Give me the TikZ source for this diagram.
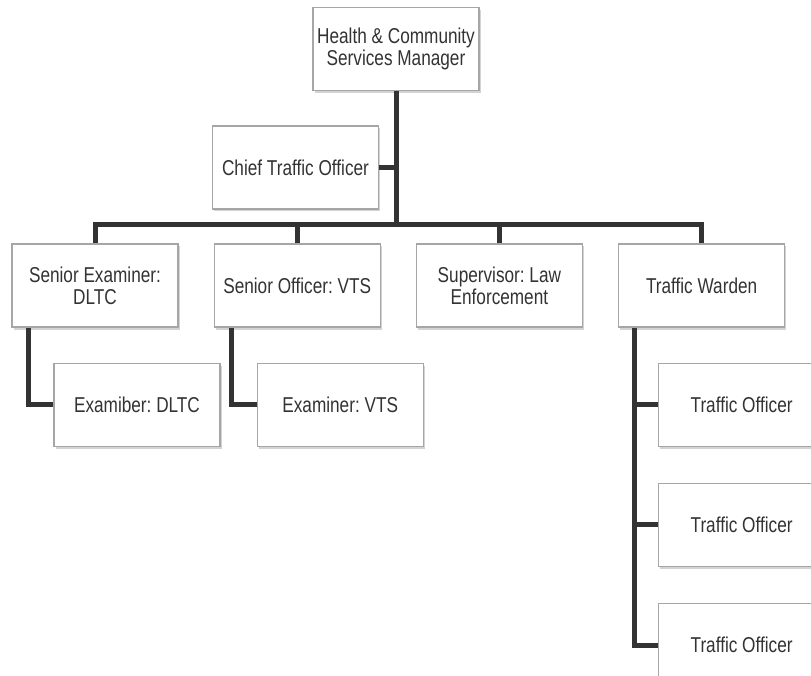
\documentclass[tikz,border=0pt]{standalone}
\usepackage{fontspec}
\setmainfont{Liberation Sans}[FakeStretch=0.8]
\usetikzlibrary{positioning,shadows}
\frenchspacing

\begin{document}
\begin{tikzpicture}[
  x=1pt, y=-1pt,
  node distance=35pt,
  post/.style={rectangle, draw=gray!70, fill=white, line width=1.2pt, align=center, inner sep=2pt, minimum width=166pt, minimum height=83pt, text=black!80, font=\fontsize{21.5}{22}\selectfont, drop shadow={shadow xshift=1.5pt, shadow yshift=-2.5pt, opacity=0.35}},
  link/.style={draw=black!80, line width=5pt}
]
\useasboundingbox (0,0) rectangle (811,676);
\clip (0,0) rectangle (811,676);

\node[post] (mgr) at (396,49) {Health \& Community\\Services Manager};
\node[post] (chief) at (295.5,167.5) {Chief Traffic Officer};
\node[post] (sen1) at (95,285.5) {Senior Examiner:\\DLTC};
\node[post, right=of sen1] (sen2) {Senior Officer: VTS};
\node[post, right=of sen2] (sup) {Supervisor: Law\\Enforcement};
\node[post, right=of sup] (warden) {Traffic Warden};
\node[post, below=35pt of sen1, xshift=42pt] (exam1) {Examiber: DLTC};
\node[post, below=35pt of sen2, xshift=43pt] (exam2) {Examiner: VTS};
\node[post, below=35pt of warden, xshift=40pt] (off1) {Traffic Officer};
\node[post, below=36pt of off1] (off2) {Traffic Officer};
\node[post, below=36pt of off2] (off3) {Traffic Officer};

\coordinate (bus) at (0,225);
\draw[link] (mgr.south) -- (mgr.south |- bus);
\draw[link] (chief.east) -- (chief.east -| mgr.south);
\draw[link] (sen1.north) -- (sen1.north |- bus) -- (warden.north |- bus) -- (warden.north);
\foreach \n in {sen2,sup} \draw[link] (\n.north) -- (\n.north |- bus);

\draw[link] ([xshift=-67pt]sen1.south) |- (exam1.west);
\draw[link] ([xshift=-66pt]sen2.south) |- (exam2.west);
\coordinate (wt) at ([xshift=-67pt]warden.south);
\draw[link] (wt) |- (off3.west);
\foreach \n in {off1,off2} \draw[link] (\n.west -| wt) -- (\n.west);
\end{tikzpicture}
\end{document}
